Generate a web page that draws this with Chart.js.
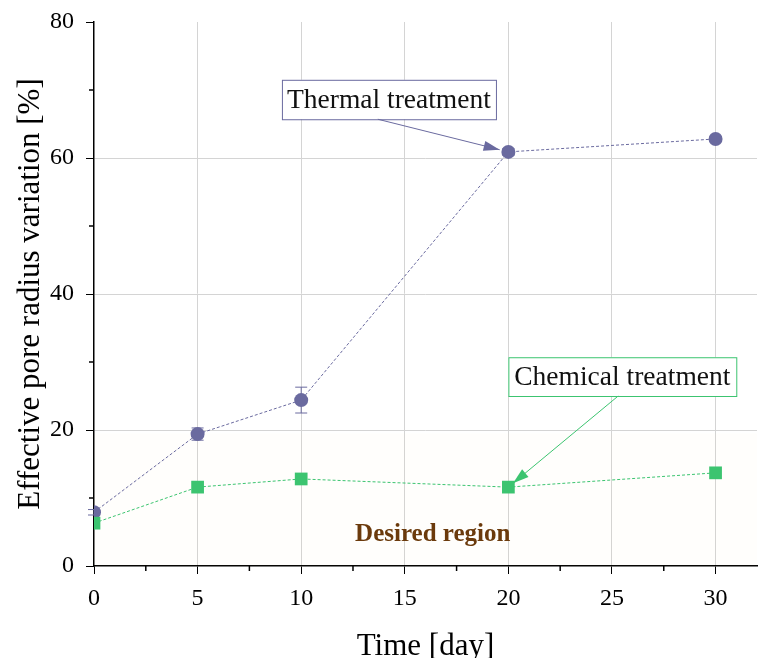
<!DOCTYPE html>
<html>
<head>
<meta charset="utf-8">
<script src="https://cdn.jsdelivr.net/npm/chart.js@4.4.0/dist/chart.umd.min.js"></script>
<style>
  html, body { margin: 0; padding: 0; background: #fff; }
  #wrap { width: 761px; height: 658px; }
</style>
</head>
<body>
<div id="wrap"><canvas id="poreChart"></canvas></div>
<script>
// sampling days
const days = [0, 5, 10, 20, 30];

// effective pore radius variation [%]
const thermalValues = [7.9, 19.4, 24.4, 60.9, 62.8];
const thermalErrors = [0.4, 0.9, 1.9, 0.5, 0.3];
const chemicalValues = [6.3, 11.6, 12.8, 11.6, 13.7];
const chemicalErrors = [0, 0, 0, 0, 0];

const xTicks = [0, 5, 10, 15, 20, 25, 30];
const yTicks = [0, 20, 40, 60, 80];

const thermalColor = '#6a6a9f';
const chemicalColor = '#3cc470';
const serif = "'Liberation Serif', 'Times New Roman', serif";

// error bars, minor ticks, call-out labels and the "desired region" note
const extrasPlugin = {
    id: 'extras',
    beforeDatasetsDraw(chart) {
        const { ctx, scales: { x, y }, chartArea } = chart;
        ctx.save();
        // very faint shading of the desired region
        ctx.fillStyle = 'rgba(255, 205, 130, 0.025)';
        ctx.fillRect(chartArea.left, y.getPixelForValue(19.5), chartArea.right - chartArea.left, y.getPixelForValue(0) - y.getPixelForValue(19.5));

        // error bars
        const drawErr = (vals, errs, color) => {
            ctx.strokeStyle = color;
            ctx.lineWidth = 1;
            vals.forEach((v, i) => {
                if (!errs[i]) return;
                const px = x.getPixelForValue(days[i]);
                const top = y.getPixelForValue(v + errs[i]);
                const bot = y.getPixelForValue(v - errs[i]);
                ctx.beginPath();
                ctx.moveTo(px, top); ctx.lineTo(px, bot);
                ctx.moveTo(px - 6, top); ctx.lineTo(px + 6, top);
                ctx.moveTo(px - 6, bot); ctx.lineTo(px + 6, bot);
                ctx.stroke();
            });
        };
        drawErr(thermalValues, thermalErrors, thermalColor);
        drawErr(chemicalValues, chemicalErrors, chemicalColor);
        ctx.restore();
    },
    afterDraw(chart) {
        const { ctx, scales: { x, y } } = chart;
        ctx.save();
        // minor ticks
        ctx.strokeStyle = '#000';
        ctx.lineWidth = 1.5;
        const y0 = y.getPixelForValue(0);
        for (let v = 2.5; v < 32; v += 5) {
            const px = x.getPixelForValue(v);
            ctx.beginPath(); ctx.moveTo(px, y0); ctx.lineTo(px, y0 + 5); ctx.stroke();
        }
        const x0 = x.getPixelForValue(0);
        for (let v = 10; v < 80; v += 20) {
            const py = y.getPixelForValue(v);
            ctx.beginPath(); ctx.moveTo(x0, py); ctx.lineTo(x0 - 5, py); ctx.stroke();
        }

        // call-out boxes with arrows
        const callout = (text, color, x1, x2, yTop, yBot, tailX, tipX, tipY, tipOffset) => {
            const l = x.getPixelForValue(x1), r = x.getPixelForValue(x2);
            const t = y.getPixelForValue(yTop), b = y.getPixelForValue(yBot);
            ctx.fillStyle = '#fff';
            ctx.fillRect(l, t, r - l, b - t);
            ctx.strokeStyle = color;
            ctx.lineWidth = 1;
            ctx.strokeRect(l + 0.5, t + 0.5, r - l, b - t);
            ctx.fillStyle = '#111';
            ctx.font = '27.5px ' + serif;
            ctx.textAlign = 'center';
            ctx.textBaseline = 'middle';
            ctx.fillText(text, (l + r) / 2, (t + b) / 2 + 1);

            const sx = x.getPixelForValue(tailX), sy = b;
            let ex = x.getPixelForValue(tipX), ey = y.getPixelForValue(tipY);
            const ang = Math.atan2(ey - sy, ex - sx);
            ex -= Math.cos(ang) * tipOffset; ey -= Math.sin(ang) * tipOffset;
            ctx.strokeStyle = color;
            ctx.fillStyle = color;
            ctx.beginPath(); ctx.moveTo(sx, sy); ctx.lineTo(ex, ey); ctx.stroke();
            const hl = 16, hw = 5;
            ctx.beginPath();
            ctx.moveTo(ex, ey);
            ctx.lineTo(ex - hl * Math.cos(ang) + hw * Math.sin(ang), ey - hl * Math.sin(ang) - hw * Math.cos(ang));
            ctx.lineTo(ex - hl * Math.cos(ang) - hw * Math.sin(ang), ey - hl * Math.sin(ang) + hw * Math.cos(ang));
            ctx.closePath();
            ctx.fill();
        };
        callout('Thermal treatment', thermalColor, 9.07, 19.4, 71.5, 65.7, 13.7, 20, 60.9, 9);
        callout('Chemical treatment', chemicalColor, 20.0, 31.0, 30.7, 25.0, 25.3, 20, 11.6, 6);

        ctx.fillStyle = '#6b3a0c';
        ctx.font = 'bold 25px ' + serif;
        ctx.textAlign = 'center';
        ctx.textBaseline = 'middle';
        ctx.fillText('Desired region', x.getPixelForValue(16.35), y.getPixelForValue(4.6));
        ctx.restore();
    }
};

const ctx = document.getElementById('poreChart').getContext('2d');
const poreChart = new Chart(ctx, {
    type: 'line',
    data: {
        datasets: [
            {
                label: 'Chemical treatment',
                data: days.map((d, i) => ({ x: d, y: chemicalValues[i] })),
                borderColor: chemicalColor,
                backgroundColor: chemicalColor,
                borderWidth: 1,
                borderDash: [3, 2],
                pointStyle: 'rect',
                pointRadius: 9,
                pointBorderWidth: 0,
                order: 0
            },
            {
                label: 'Thermal treatment',
                data: days.map((d, i) => ({ x: d, y: thermalValues[i] })),
                borderColor: thermalColor,
                backgroundColor: thermalColor,
                borderWidth: 1,
                borderDash: [3, 2],
                pointStyle: 'circle',
                pointRadius: 7,
                pointBorderWidth: 0,
                order: 1
            }
        ]
    },
    options: {
        responsive: true,
        maintainAspectRatio: false,
        animation: false,
        layout: { autoPadding: false, padding: { top: 22, right: 4, left: 0, bottom: 0 } },
        plugins: {
            legend: { display: false },
            tooltip: { enabled: false }
        },
        scales: {
            x: {
                type: 'linear',
                min: 0,
                max: 32,
                afterBuildTicks: s => { s.ticks = xTicks.map(v => ({ value: v })); },
                afterFit: s => { s.height = 92; s.paddingLeft = 0; s.paddingRight = 0; },
                border: { color: '#000', width: 1.5 },
                grid: {
                    color: c => (c.tick && c.tick.value === 0 ? 'transparent' : '#d4d4d4'),
                    tickColor: '#000',
                    tickLength: 8,
                    lineWidth: 1
                },
                ticks: {
                    color: '#000',
                    padding: 10,
                    font: { family: serif, size: 24 }
                },
                title: {
                    display: true,
                    text: 'Time [day]',
                    color: '#000',
                    padding: { top: 0, bottom: 0 },
                    font: { family: serif, size: 31, lineHeight: 0.75 }
                }
            },
            y: {
                type: 'linear',
                min: 0,
                max: 80,
                afterBuildTicks: s => { s.ticks = yTicks.map(v => ({ value: v })); },
                afterFit: s => { s.width = 94; s.paddingTop = 0; s.paddingBottom = 0; },
                border: { color: '#000', width: 1.5 },
                grid: {
                    color: c => (c.tick && (c.tick.value === 0 || c.tick.value === 80) ? 'transparent' : '#d4d4d4'),
                    tickColor: '#000',
                    tickLength: 8,
                    lineWidth: 1
                },
                ticks: {
                    color: '#000',
                    padding: 12,
                    font: { family: serif, size: 24 }
                },
                title: {
                    display: true,
                    text: 'Effective pore radius variation [%]',
                    color: '#000',
                    padding: { top: 12, bottom: 0 },
                    font: { family: serif, size: 31, lineHeight: 1.2 }
                }
            }
        }
    },
    plugins: [extrasPlugin]
});
</script>
</body>
</html>
